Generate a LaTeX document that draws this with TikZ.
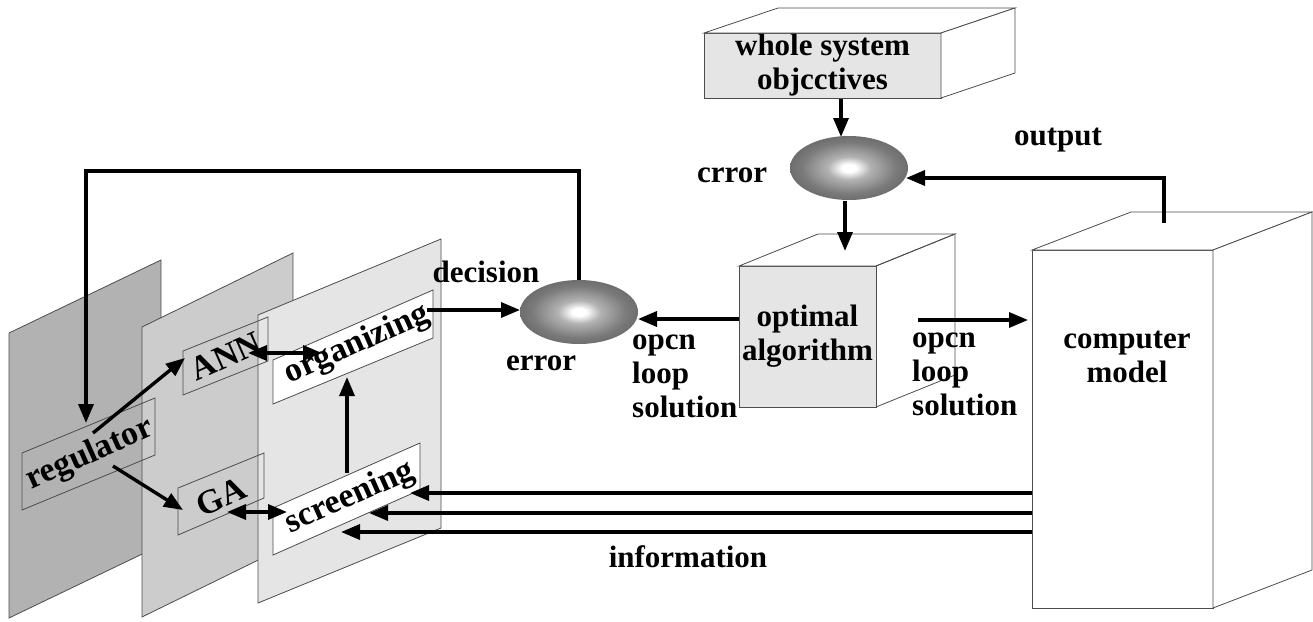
\documentclass[tikz,border=0pt]{standalone}
\usepackage{fontspec}
\setmainfont{Liberation Serif}
\usetikzlibrary{arrows.meta,shapes.geometric}
\pgfdeclareradialshading{errball}{\pgfpointorigin}{color(0bp)=(white); color(3bp)=(white); color(9bp)=(black!30); color(20bp)=(black!52); color(34bp)=(black!66); color(50bp)=(black!88)}
\tikzset{
  lbl/.style={font=\fontsize{31}{34}\selectfont\bfseries, inner sep=0pt, align=center},
  lbll/.style={font=\fontsize{31}{34}\selectfont\bfseries, inner sep=0pt, align=left},
  plbl/.style={font=\fontsize{34}{36}\selectfont\bfseries, inner sep=0pt, rotate=24},
  edge/.style={draw=black!70, line width=0.8pt},
  arr/.style={line width=3.4pt, -{Triangle[length=19pt,width=15pt]}},
  darr/.style={line width=3.4pt, {Triangle[length=19pt,width=15pt]}-{Triangle[length=19pt,width=15pt]}},
  errnode/.style={ellipse, shade, shading=errball, minimum width=118pt, minimum height=64pt, inner sep=0pt, outer sep=0pt},
  face/.style={edge, rectangle, inner sep=0pt, outer sep=0pt},
}
\begin{document}
\begin{tikzpicture}[x=1pt,y=-1pt]
\useasboundingbox (0,0) rectangle (1313,621);

% ---------- panels ----------
\path[edge, fill=black!30] (9,333) -- (161,260) -- (161,545) -- (9,618) -- cycle;
\path[edge, fill=black!20] (142,327) -- (293,253) -- (293,543) -- (142,617) -- cycle;
\path[edge, fill=black!10] (258,315) -- (441,239) -- (441,528) -- (258,603) -- cycle;

% inner boxes
\path[edge] (22,453) -- (155,398) -- (155,455) -- (22,510) -- cycle;
\path[edge] (183,351) -- (268,317) -- (268,361) -- (183,395) -- cycle;
\path[edge] (178,488) -- (264,453) -- (264,498) -- (178,535) -- cycle;
\path[edge, fill=white] (273,360) -- (433,290) -- (433,338) -- (273,404) -- cycle;
\path[edge, fill=white] (273,508) -- (420,443) -- (420,490) -- (273,555) -- cycle;

\node[plbl] (reg) at (90,455) {regulator};
\node[plbl] (ann) at (226,356) {ANN};
\node[plbl] (ga)  at (221,497) {GA};
\node[plbl] (org) at (357,345) {organizing};
\node[plbl] (scr) at (350,498) {screening};

% ---------- cuboids ----------
\node[face, fill=black!10, minimum width=237pt, minimum height=65pt, lbl] (whole) at (822.5,65.5) {whole system\\objcctives};
\path[edge, fill=white] (whole.north west) -- ++(74,-25) -- ++(237,0) -- (whole.north east) -- cycle;
\path[edge, fill=white] (whole.north east) -- ++(74,-25) -- ++(0,65) -- (whole.south east) -- cycle;

\node[face, fill=black!10, minimum width=137pt, minimum height=141pt, lbl] (opt) at (807.5,336.5) {optimal\\algorithm};
\path[edge, fill=white] (opt.north west) -- ++(79,-32) -- ++(137,0) -- (opt.north east) -- cycle;
\path[edge] (opt.north east) -- ++(79,-32) -- ++(0,141) -- (opt.south east);

\node[face, fill=white, minimum width=181pt, minimum height=358pt] (comp) at (1122.5,429) {};
\path[edge, fill=white] (comp.north west) -- ++(99,-38) -- ++(181,0) -- (comp.north east) -- cycle;
\path[edge, fill=white] (comp.north east) -- ++(99,-38) -- ++(0,358) -- (comp.south east) -- cycle;
\node[lbl] (comptxt) at (1127,357) {computer\\model};

% ---------- error ellipses ----------
\node[errnode] (e1) at (849,168) {};
\node[errnode] (e2) at (579,312) {};

% ---------- labels ----------
\node[lbl] (dec) at (486,272) {decision};
\node[lbl] (err2) at (541,363) {error};
\node[lbll, anchor=west] (ols1) at (632,376) {opcn\\loop\\solution};
\node[lbll, anchor=west] (ols2) at (912,374) {opcn\\loop\\solution};
\node[lbl] (err1) at (732,175) {crror};
\node[lbl] (outl) at (1058,140) {output};
\node[lbl] (info) at (688,557) {information};

% ---------- connector end points ----------
\coordinate (fbk) at (86,171);
\coordinate (regin) at (86,423);
\coordinate (regA) at (93,433);
\coordinate (annin) at (185,358);
\coordinate (regB) at (113,466);
\coordinate (gain) at (183,510);
\coordinate (annR) at (248,353);
\coordinate (orgL) at (322,353);
\coordinate (gaR) at (227,512);
\coordinate (scrL) at (287,512);
\coordinate (scrT) at (347,473);
\coordinate (orgB) at (347,377);
\coordinate (orgout) at (427,310);
\coordinate (optl) at (700,319);
\coordinate (optr) at (918,320);
\coordinate (compin) at (1028,320);
\coordinate (outs) at (1164,223);
\coordinate (oute) at (906,178);
\coordinate (wtop) at (841,99);
\coordinate (e1in) at (841,137);
\coordinate (e1out) at (845,201);
\coordinate (optin) at (845,251);
\coordinate (in1) at (410,493);
\coordinate (in2) at (369,513);
\coordinate (in3) at (341,532);

% ---------- connectors ----------
\draw[arr] (e2.north) |- (fbk) -- (regin);
\draw[arr] (regA) -- (annin);
\draw[arr] (regB) -- (gain);
\draw[darr] (annR) -- (orgL);
\draw[darr] (gaR) -- (scrL);
\draw[arr] (scrT) -- (orgB);
\draw[arr] (orgout) -- (e2.west |- orgout);
\draw[arr] (opt.west |- optl) -- (e2.east |- optl);
\draw[arr] (wtop) -- (e1in);
\draw[arr] (e1out) -- (optin);
\draw[arr] (optr) -- (compin);
\draw[arr] (outs) |- (oute);
\draw[arr] (comp.west |- in1) -- (in1);
\draw[arr] (comp.west |- in2) -- (in2);
\draw[arr] (comp.west |- in3) -- (in3);
\end{tikzpicture}
\end{document}
